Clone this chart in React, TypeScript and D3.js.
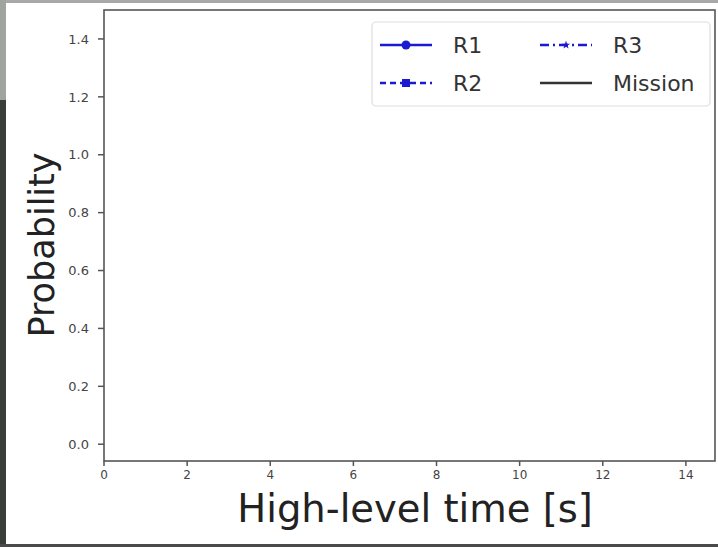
import React from 'react'
import * as d3 from 'd3'

// empty probability plot, only the frame, ticks and legend are visible
const xTicks = [0, 2, 4, 6, 8, 10, 12, 14]
const yTicks = [0.0, 0.2, 0.4, 0.6, 0.8, 1.0, 1.2, 1.4]
const xDomain = [0, 14.7]
const yDomain = [-0.058, 1.5]

const seriesNames = ['R1', 'R2', 'R3', 'Mission']
const seriesValues: number[][] = [[], [], [], []]

const W = 718,
  H = 547
const left = 104,
  right = 715,
  top = 10,
  bottom = 461
const blue = '#1a1ad0'
const font = 'DejaVu Sans, sans-serif'

const x = d3.scaleLinear().domain(xDomain).range([left, right])
const y = d3.scaleLinear().domain(yDomain).range([bottom, top])

const lineStyles = [
  { color: blue, dash: 'none', marker: 'circle' },
  { color: blue, dash: '6,4', marker: 'square' },
  { color: blue, dash: '9,4,2,4', marker: 'star' },
  { color: '#333', dash: 'none', marker: 'none' }
]

const Marker = ({ kind, cx, cy, color }: any) => {
  if (kind === 'circle') return <circle cx={cx} cy={cy} r={4.5} fill={color} />
  if (kind === 'square') return <rect x={cx - 4} y={cy - 4} width={8} height={8} fill={color} />
  if (kind === 'star') {
    const star = d3.symbol().type(d3.symbolStar).size(22)
    return <path d={star() || ''} transform={`translate(${cx},${cy})`} fill={color} />
  }
  return null
}

export default function App() {
  const line = d3
    .line<number>()
    .x((d, i) => x(i))
    .y(d => y(d))

  // legend slots: 2 columns
  const legendPos = [
    { lx: 380, ly: 45 },
    { lx: 380, ly: 83 },
    { lx: 540, ly: 45 },
    { lx: 540, ly: 83 }
  ]

  return (
    <svg
      width={W}
      height={H}
      style={{ position: 'absolute', left: 0, top: 0, background: '#fff' }}
    >
      {/* photo frame leftovers */}
      <rect x={0} y={0} width={W} height={3} fill="#a8a8a8" />
      <rect x={0} y={0} width={6} height={100} fill="#a0a4a0" />
      <rect x={0} y={100} width={6} height={H - 100} fill="#3a3d3a" />
      <rect x={0} y={H - 3} width={W} height={3} fill="#4a4a4a" />

      {/* data (none drawn in the source) */}
      {seriesValues.map((vals, i) =>
        vals.length ? (
          <path
            key={i}
            d={line(vals) || ''}
            fill="none"
            stroke={lineStyles[i].color}
            strokeDasharray={lineStyles[i].dash}
          />
        ) : null
      )}

      {/* spines */}
      <rect
        x={left}
        y={top}
        width={right - left}
        height={bottom - top}
        fill="none"
        stroke="#555"
        strokeWidth={1.6}
      />

      {/* y ticks */}
      {yTicks.map(t => (
        <g key={'y' + t} transform={`translate(0,${y(t)})`}>
          <line x1={left - 6} x2={left} stroke="#555" strokeWidth={1.5} />
          <text
            x={left - 15}
            dy="0.36em"
            textAnchor="end"
            fontFamily={font}
            fontSize={13}
            fill="#444"
          >
            {t.toFixed(1)}
          </text>
        </g>
      ))}

      {/* x ticks */}
      {xTicks.map(t => (
        <g key={'x' + t} transform={`translate(${x(t)},0)`}>
          <line y1={bottom} y2={bottom + 5} stroke="#555" strokeWidth={1.5} />
          <text
            y={bottom + 18}
            textAnchor="middle"
            fontFamily={font}
            fontSize={12}
            fill="#444"
          >
            {t}
          </text>
        </g>
      ))}

      {/* axis labels */}
      <text
        transform="translate(54,245) rotate(-90)"
        textAnchor="middle"
        fontFamily={font}
        fontSize={35}
        fill="#222"
      >
        Probability
      </text>
      <text
        x={415}
        y={522}
        textAnchor="middle"
        fontFamily={font}
        fontSize={38.5}
        fill="#222"
      >
        High-level time [s]
      </text>

      {/* legend */}
      <rect
        x={372}
        y={22}
        width={338}
        height={84}
        rx={4}
        fill="#fff"
        fillOpacity={0.8}
        stroke="#ddd"
        strokeWidth={1.2}
      />
      {seriesNames.map((name, i) => {
        const { lx, ly } = legendPos[i]
        const st = lineStyles[i]
        return (
          <g key={name}>
            <line
              x1={lx}
              x2={lx + 52}
              y1={ly}
              y2={ly}
              stroke={st.color}
              strokeWidth={2.5}
              strokeDasharray={st.dash}
            />
            <Marker kind={st.marker} cx={lx + 26} cy={ly} color={st.color} />
            <text
              x={lx + 73}
              y={ly}
              dy="0.36em"
              fontFamily={font}
              fontSize={22}
              fill="#333"
            >
              {name}
            </text>
          </g>
        )
      })}
    </svg>
  )
}
